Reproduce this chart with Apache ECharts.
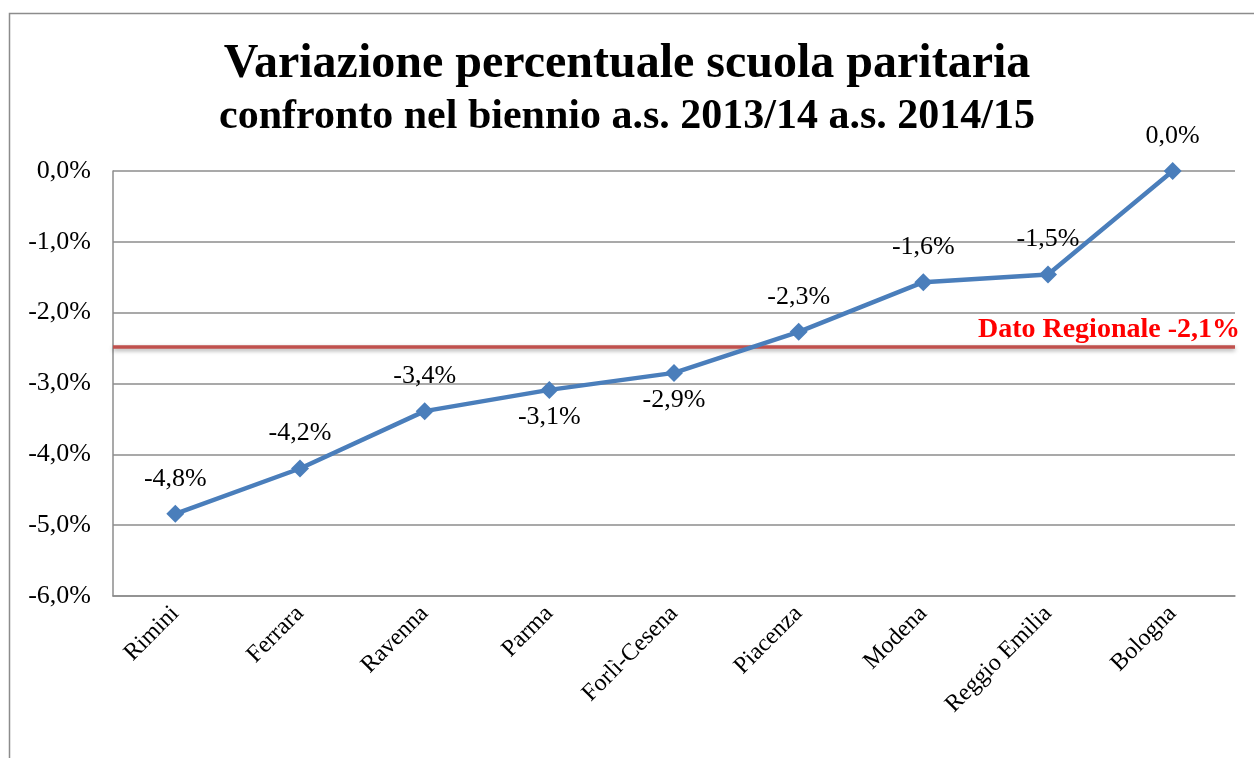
<!DOCTYPE html>
<html>
<head>
<meta charset="utf-8">
<script src="https://cdn.jsdelivr.net/npm/echarts@6/dist/echarts.min.js"></script>
<style>
html,body{margin:0;padding:0;background:#fff;}
#chart{width:1254px;height:758px;}
</style>
</head>
<body>
<div id="chart"></div>
<script>
const titleLine1 = 'Variazione percentuale scuola paritaria';
const titleLine2 = 'confronto nel biennio a.s. 2013/14 a.s. 2014/15';
const categories = ['Rimini','Ferrara','Ravenna','Parma','Forlì-Cesena','Piacenza','Modena','Reggio Emilia','Bologna'];
const values = [-4.84, -4.2, -3.39, -3.09, -2.85, -2.27, -1.57, -1.46, 0];
const labelsBelow = ['Parma', 'Forlì-Cesena'];
const regionalValue = -2.48;
const regionalLabel = 'Dato Regionale -2,1%';
const yMin = -6, yMax = 0, yStep = 1;

const SERIF = "'Liberation Serif','Times New Roman',serif";
const fmt = v => v.toFixed(1).replace('.', ',') + '%';

const chart = echarts.init(document.getElementById('chart'));
chart.setOption({
  animation: false,
  backgroundColor: '#ffffff',
  graphic: [{
    type: 'rect', left: 7, top: 11, shape: {width: 1300, height: 800},
    style: {fill: 'none', stroke: '#8c8c8c', lineWidth: 1.5}, silent: true, z: -1
  }],
  title: [
    {text: titleLine1, left: 'center', top: 36,
     textStyle: {fontFamily: SERIF, fontWeight: 'bold', fontSize: 48, color: '#000'}},
    {text: titleLine2, left: 'center', top: 91,
     textStyle: {fontFamily: SERIF, fontWeight: 'bold', fontSize: 42, color: '#000'}}
  ],
  grid: {left: 113, right: 19, top: 171, bottom: 162, containLabel: false},
  xAxis: {
    type: 'category', data: categories, boundaryGap: true,
    axisLine: {onZero: false, lineStyle: {color: '#8c8c8c', width: 1.5}},
    axisTick: {show: false},
    axisLabel: {rotate: 45, margin: 14, interval: 0, fontFamily: SERIF, fontSize: 24, color: '#000'}
  },
  yAxis: {
    type: 'value', min: yMin, max: yMax, interval: yStep,
    axisLine: {show: true, lineStyle: {color: '#8c8c8c', width: 1.5}},
    axisTick: {show: false},
    splitLine: {lineStyle: {color: '#8c8c8c', width: 1.5}},
    axisLabel: {formatter: fmt, margin: 22, fontFamily: SERIF, fontSize: 26, color: '#000'}
  },
  series: [{
    type: 'line',
    data: values.map((v, i) => ({
      value: v,
      label: labelsBelow.includes(categories[i]) ? {position: 'bottom', distance: 5} : {position: 'top', distance: 13}
    })),
    symbol: 'diamond', symbolSize: 18,
    lineStyle: {color: '#4a7ebb', width: 4.5},
    itemStyle: {color: '#4a7ebb'},
    label: {show: true, formatter: p => fmt(p.value), fontFamily: SERIF, fontSize: 26, color: '#000'},
    z: 3,
    markLine: {
      silent: true, symbol: 'none',
      lineStyle: {color: '#c0504d', width: 3.5, type: 'solid', shadowColor: 'rgba(0,0,0,0.35)', shadowBlur: 4, shadowOffsetY: 2},
      label: {show: true, position: 'insideEndTop', distance: [-5, 3], formatter: regionalLabel,
              fontFamily: SERIF, fontWeight: 'bold', fontSize: 28, color: '#ff0000'},
      data: [{yAxis: regionalValue}],
      z: 2
    }
  }]
});
</script>
</body>
</html>
